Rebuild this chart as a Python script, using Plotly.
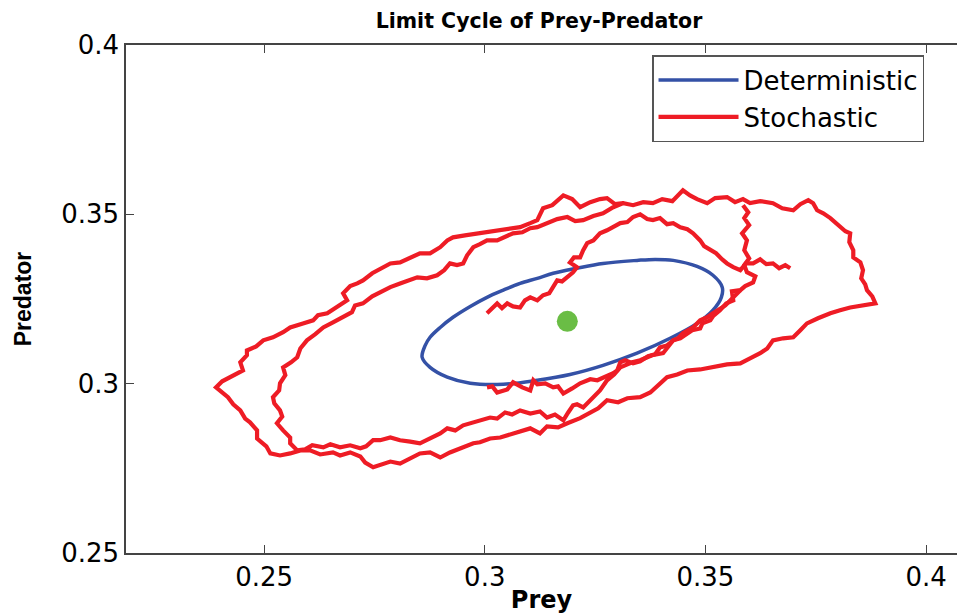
import plotly.graph_objects as go

# ---------------- data ----------------
x_ticks = [0.25, 0.3, 0.35, 0.4]
x_tick_labels = ["0.25", "0.3", "0.35", "0.4"]
y_ticks = [0.25, 0.3, 0.35, 0.4]
y_tick_labels = ["0.25", "0.3", "0.35", "0.4"]

# deterministic limit cycle (closed curve)
det_prey = [0.2858, 0.2865, 0.2876, 0.2899, 0.2928, 0.2967, 0.3005, 0.3042, 0.3080,
            0.3119, 0.3155, 0.3209, 0.3268, 0.3345, 0.3386, 0.3427, 0.3481, 0.3517,
            0.3538, 0.3536, 0.3517, 0.3481, 0.3420, 0.3345, 0.3268, 0.3193, 0.3119,
            0.3042, 0.2967, 0.2915, 0.2876, 0.2858]
det_pred = [0.3078, 0.3113, 0.3137, 0.3166, 0.3196, 0.3228, 0.3255, 0.3276, 0.3296,
            0.3311, 0.3326, 0.3341, 0.3355, 0.3364, 0.3367, 0.3364, 0.3346, 0.3320,
            0.3285, 0.3255, 0.3217, 0.3178, 0.3134, 0.3090, 0.3054, 0.3027, 0.3010,
            0.2998, 0.3001, 0.3019, 0.3048, 0.3078]

# stochastic trajectory (pieces separated by None)
sto_prey = [
    # inner start and upper inner loop
    0.3005, 0.3017, 0.3028, 0.3039, 0.3051, 0.3064, 0.3080, 0.3091, 0.3103, 0.3119,
    0.3132, 0.3146, 0.3155, 0.3164, 0.3175, 0.3187, 0.3200, 0.3209, 0.3193, 0.3202,
    0.3216, 0.3223, 0.3232, 0.3246, 0.3261, 0.3277, 0.3291, 0.3307, 0.3323, 0.3336,
    0.3352, 0.3368, 0.3381, 0.3397, 0.3413, 0.3427, 0.3443, 0.3459, 0.3472, 0.3488,
    0.3497, 0.3511, 0.3524, 0.3538, 0.3549, 0.3563, 0.3579, 0.3592, 0.3608, 0.3624,
    0.3638, 0.3653, 0.3667, 0.3681, 0.3692,
    None,
    # right connector and strip under the cycle
    0.3585, 0.3597, 0.3588, 0.3599, 0.3583, 0.3594, 0.3588, 0.3599, 0.3588, 0.3594,
    0.3613, 0.3608, 0.3590, 0.3579, 0.3560, 0.3563, 0.3547, 0.3533, 0.3517, 0.3511,
    0.3493, 0.3488, 0.3470, 0.3459, 0.3443, 0.3427, 0.3413, 0.3397, 0.3386, 0.3370,
    0.3352, 0.3336, 0.3318, 0.3307, 0.3300, 0.3291, 0.3273, 0.3255, 0.3239, 0.3216,
    0.3198, 0.3178, 0.3166, 0.3155, 0.3137, 0.3119, 0.3110, 0.3103, 0.3085, 0.3064,
    0.3051, 0.3028, 0.3017, 0.3005,
    None,
    # middle and outer loops
    0.3579, 0.3563, 0.3545, 0.3517, 0.3504, 0.3488, 0.3472, 0.3449, 0.3438, 0.3427,
    0.3413, 0.3404, 0.3379, 0.3352, 0.3334, 0.3307, 0.3293, 0.3277, 0.3261, 0.3246,
    0.3234, 0.3223, 0.3209, 0.3200, 0.3189, 0.3178, 0.3159, 0.3141, 0.3125, 0.3103,
    0.3080, 0.3062, 0.3046, 0.3028, 0.3012, 0.2989, 0.2971, 0.2951, 0.2933, 0.2915,
    0.2899, 0.2881, 0.2865, 0.2853, 0.2831, 0.2808, 0.2786, 0.2763, 0.2747, 0.2731,
    0.2718, 0.2695, 0.2672, 0.2650, 0.2634, 0.2609, 0.2593, 0.2575, 0.2559, 0.2559,
    0.2543, 0.2529, 0.2541, 0.2536, 0.2523, 0.2520, 0.2534, 0.2536, 0.2548, 0.2543,
    0.2561, 0.2575, 0.2582, 0.2597, 0.2616, 0.2634, 0.2656, 0.2679, 0.2699, 0.2706,
    0.2724, 0.2745, 0.2763, 0.2786, 0.2808, 0.2826, 0.2847, 0.2869, 0.2892, 0.2908,
    0.2921, 0.2937, 0.2951, 0.2960, 0.2974, 0.2989, 0.3005, 0.3028, 0.3046, 0.3064,
    0.3085, 0.3103, 0.3119, 0.3141, 0.3164, 0.3187, 0.3205, 0.3223, 0.3246, 0.3268,
    0.3291, 0.3314, 0.3336, 0.3359, 0.3381, 0.3402, 0.3425, 0.3449, 0.3465, 0.3481,
    0.3504, 0.3522, 0.3549, 0.3567, 0.3585, 0.3601, 0.3624, 0.3653, 0.3674, 0.3699,
    0.3715, 0.3733, 0.3744, 0.3753, 0.3767, 0.3783, 0.3805, 0.3817, 0.3828, 0.3826,
    0.3835, 0.3835, 0.3851, 0.3857, 0.3853, 0.3862, 0.3866, 0.3878, 0.3885, 0.3855,
    0.3828, 0.3805, 0.3783, 0.3755, 0.3730, 0.3715, 0.3699, 0.3676, 0.3653, 0.3640,
    0.3624, 0.3601, 0.3579, 0.3549, 0.3517, 0.3488, 0.3459, 0.3436, 0.3413, 0.3393,
    0.3375, 0.3352, 0.3323, 0.3302, 0.3277, 0.3257, 0.3239, 0.3216, 0.3187, 0.3166,
    0.3141, 0.3125, 0.3103, 0.3087, 0.3062, 0.3035, 0.3012, 0.2989, 0.2974, 0.2949,
    0.2921, 0.2899, 0.2876, 0.2853, 0.2831, 0.2808, 0.2786, 0.2763, 0.2747, 0.2729,
    0.2718, 0.2695, 0.2672, 0.2656, 0.2627, 0.2604, 0.2582, 0.2559, 0.2536, 0.2514,
    0.2505, 0.2484, 0.2484, 0.2468, 0.2457, 0.2446, 0.2430, 0.2418, 0.2391, 0.2405,
    0.2423, 0.2437, 0.2452, 0.2446, 0.2461, 0.2461, 0.2482, 0.2498, 0.2520, 0.2543,
    0.2559, 0.2588, 0.2611, 0.2622, 0.2643, 0.2663, 0.2688, 0.2679, 0.2695, 0.2711,
    0.2724, 0.2745, 0.2767, 0.2786, 0.2808, 0.2831, 0.2853, 0.2876, 0.2899, 0.2915,
    0.2928, 0.2955, 0.2983, 0.3008, 0.3035, 0.3057, 0.3080, 0.3103, 0.3119, 0.3132,
    0.3153, 0.3178, 0.3198, 0.3216, 0.3239, 0.3261, 0.3277, 0.3295, 0.3314,
]
sto_pred = [
    0.3208, 0.3225, 0.3237, 0.3223, 0.3237, 0.3228, 0.3225, 0.3246, 0.3255, 0.3246,
    0.3261, 0.3267, 0.3285, 0.3305, 0.3302, 0.3314, 0.3329, 0.3344, 0.3358, 0.3373,
    0.3373, 0.3394, 0.3415, 0.3423, 0.3444, 0.3453, 0.3462, 0.3474, 0.3477, 0.3492,
    0.3500, 0.3486, 0.3483, 0.3489, 0.3471, 0.3474, 0.3462, 0.3456, 0.3444, 0.3423,
    0.3406, 0.3394, 0.3385, 0.3367, 0.3355, 0.3344, 0.3335, 0.3355, 0.3355, 0.3367,
    0.3353, 0.3355, 0.3341, 0.3350, 0.3341,
    None,
    0.3527, 0.3506, 0.3489, 0.3468, 0.3444, 0.3423, 0.3394, 0.3370, 0.3350, 0.3329,
    0.3317, 0.3299, 0.3288, 0.3276, 0.3273, 0.3246, 0.3237, 0.3217, 0.3199, 0.3187,
    0.3178, 0.3163, 0.3158, 0.3149, 0.3134, 0.3128, 0.3113, 0.3107, 0.3087, 0.3081,
    0.3066, 0.3060, 0.3069, 0.3063, 0.3039, 0.3031, 0.3022, 0.3010, 0.3013, 0.3001,
    0.2986, 0.2971, 0.2992, 0.2989, 0.3001, 0.2998, 0.3010, 0.2980, 0.2989, 0.3004,
    0.2983, 0.2974, 0.2992, 0.2989,
    None,
    0.3276, 0.3255, 0.3231, 0.3208, 0.3196, 0.3187, 0.3166, 0.3149, 0.3134, 0.3128,
    0.3104, 0.3090, 0.3084, 0.3069, 0.3063, 0.3048, 0.3027, 0.3010, 0.2980, 0.2960,
    0.2945, 0.2930, 0.2939, 0.2936, 0.2915, 0.2892, 0.2909, 0.2900, 0.2918, 0.2912,
    0.2921, 0.2909, 0.2915, 0.2897, 0.2900, 0.2892, 0.2886, 0.2877, 0.2862, 0.2868,
    0.2853, 0.2841, 0.2833, 0.2824, 0.2829, 0.2833, 0.2841, 0.2833, 0.2833, 0.2815,
    0.2809, 0.2818, 0.2812, 0.2821, 0.2812, 0.2818, 0.2806, 0.2803, 0.2824, 0.2841,
    0.2862, 0.2883, 0.2903, 0.2921, 0.2942, 0.2960, 0.2980, 0.3001, 0.3025, 0.3048,
    0.3063, 0.3078, 0.3104, 0.3128, 0.3146, 0.3166, 0.3181, 0.3196, 0.3211, 0.3231,
    0.3237, 0.3258, 0.3270, 0.3285, 0.3296, 0.3305, 0.3314, 0.3311, 0.3320, 0.3335,
    0.3355, 0.3350, 0.3355, 0.3379, 0.3403, 0.3412, 0.3423, 0.3423, 0.3435, 0.3444,
    0.3447, 0.3459, 0.3462, 0.3474, 0.3486, 0.3492, 0.3480, 0.3483, 0.3495, 0.3503,
    0.3521, 0.3533, 0.3527, 0.3536, 0.3533, 0.3545, 0.3539, 0.3571, 0.3556, 0.3545,
    0.3533, 0.3548, 0.3551, 0.3536, 0.3545, 0.3533, 0.3539, 0.3533, 0.3518, 0.3512,
    0.3530, 0.3542, 0.3533, 0.3512, 0.3503, 0.3489, 0.3462, 0.3450, 0.3444, 0.3418,
    0.3394, 0.3373, 0.3358, 0.3335, 0.3311, 0.3293, 0.3276, 0.3258, 0.3237, 0.3231,
    0.3225, 0.3217, 0.3208, 0.3193, 0.3178, 0.3158, 0.3137, 0.3134, 0.3128, 0.3104,
    0.3090, 0.3075, 0.3060, 0.3057, 0.3048, 0.3042, 0.3039, 0.3027, 0.3019, 0.2995,
    0.2974, 0.2960, 0.2957, 0.2945, 0.2951, 0.2927, 0.2915, 0.2898, 0.2883, 0.2871,
    0.2874, 0.2853, 0.2868, 0.2862, 0.2850, 0.2841, 0.2838, 0.2827, 0.2824, 0.2812,
    0.2797, 0.2782, 0.2797, 0.2794, 0.2779, 0.2764, 0.2770, 0.2758, 0.2753, 0.2767,
    0.2785, 0.2797, 0.2788, 0.2797, 0.2791, 0.2803, 0.2803, 0.2794, 0.2788, 0.2794,
    0.2815, 0.2838, 0.2862, 0.2886, 0.2897, 0.2921, 0.2939, 0.2960, 0.2989, 0.3007,
    0.3019, 0.3031, 0.3039, 0.3063, 0.3084, 0.3098, 0.3110, 0.3128, 0.3137, 0.3152,
    0.3166, 0.3178, 0.3187, 0.3202, 0.3208, 0.3225, 0.3246, 0.3267, 0.3288, 0.3296,
    0.3305, 0.3326, 0.3341, 0.3355, 0.3358, 0.3373, 0.3385, 0.3385, 0.3403, 0.3423,
    0.3432, 0.3438, 0.3444, 0.3447, 0.3453, 0.3459, 0.3462, 0.3474, 0.3483, 0.3518,
    0.3527, 0.3556, 0.3545, 0.3521, 0.3536, 0.3545, 0.3548, 0.3530, 0.3533,
]

# equilibrium point
eq_prey = [0.3187]
eq_pred = [0.3184]

# ---------------- figure ----------------
RED = "#ee1c25"
BLUE = "#3451a6"
GREEN = "#6abd45"
AXIS = "#444444"

fig = go.Figure()
fig.add_trace(go.Scatter(
    x=det_prey, y=det_pred, mode="lines", name="Deterministic",
    line=dict(color=BLUE, width=3.5, shape="spline", smoothing=1.0),
))
fig.add_trace(go.Scatter(
    x=sto_prey, y=sto_pred, mode="lines", name="Stochastic",
    line=dict(color=RED, width=4.2), connectgaps=False,
))
fig.add_trace(go.Scatter(
    x=eq_prey, y=eq_pred, mode="markers", showlegend=False,
    marker=dict(color=GREEN, size=21, line=dict(width=0)),
))

fig.update_layout(
    width=957, height=614,
    margin=dict(l=126, r=0, t=45, b=61, autoexpand=False),
    paper_bgcolor="white", plot_bgcolor="white",
    font=dict(family="DejaVu Sans", color="black"),
    title=dict(
        text="<b>Limit Cycle of Prey-Predator</b>",
        font=dict(family="DejaVu Sans", size=20.5, color="black"),
        x=0.497, xref="paper", xanchor="center",
        y=1 - 21 / 614, yref="container", yanchor="middle",
    ),
    showlegend=True,
    legend=dict(
        x=0.633, y=0.980, xanchor="left", yanchor="top",
        bgcolor="white", bordercolor="#555555", borderwidth=1.5,
        font=dict(family="DejaVu Sans", size=26, color="black"),
        itemwidth=80, tracegroupgap=0,
    ),
    xaxis=dict(
        range=[0.2187, 0.4070],
        tickvals=x_ticks, ticktext=x_tick_labels,
        ticks="inside", ticklen=8, tickwidth=1.2, tickcolor=AXIS,
        showline=True, linecolor=AXIS, linewidth=1.5, mirror="ticks",
        showgrid=False, zeroline=False,
        tickfont=dict(family="DejaVu Sans", size=26, color="black"),
        title=dict(text="<b>Prey</b>", standoff=4,
                   font=dict(family="DejaVu Sans", size=24, color="black")),
    ),
    yaxis=dict(
        range=[0.25, 0.40],
        tickvals=y_ticks, ticktext=y_tick_labels,
        ticks="inside", ticklen=8, tickwidth=1.2, tickcolor=AXIS,
        showline=True, linecolor=AXIS, linewidth=1.5, mirror=False,
        showgrid=False, zeroline=False,
        tickfont=dict(family="DejaVu Sans", size=26, color="black"),
        title=dict(text="<b>Predator</b>", standoff=23,
                   font=dict(family="Liberation Sans", size=23, color="black")),
    ),
)

fig.write_html("out.html")
